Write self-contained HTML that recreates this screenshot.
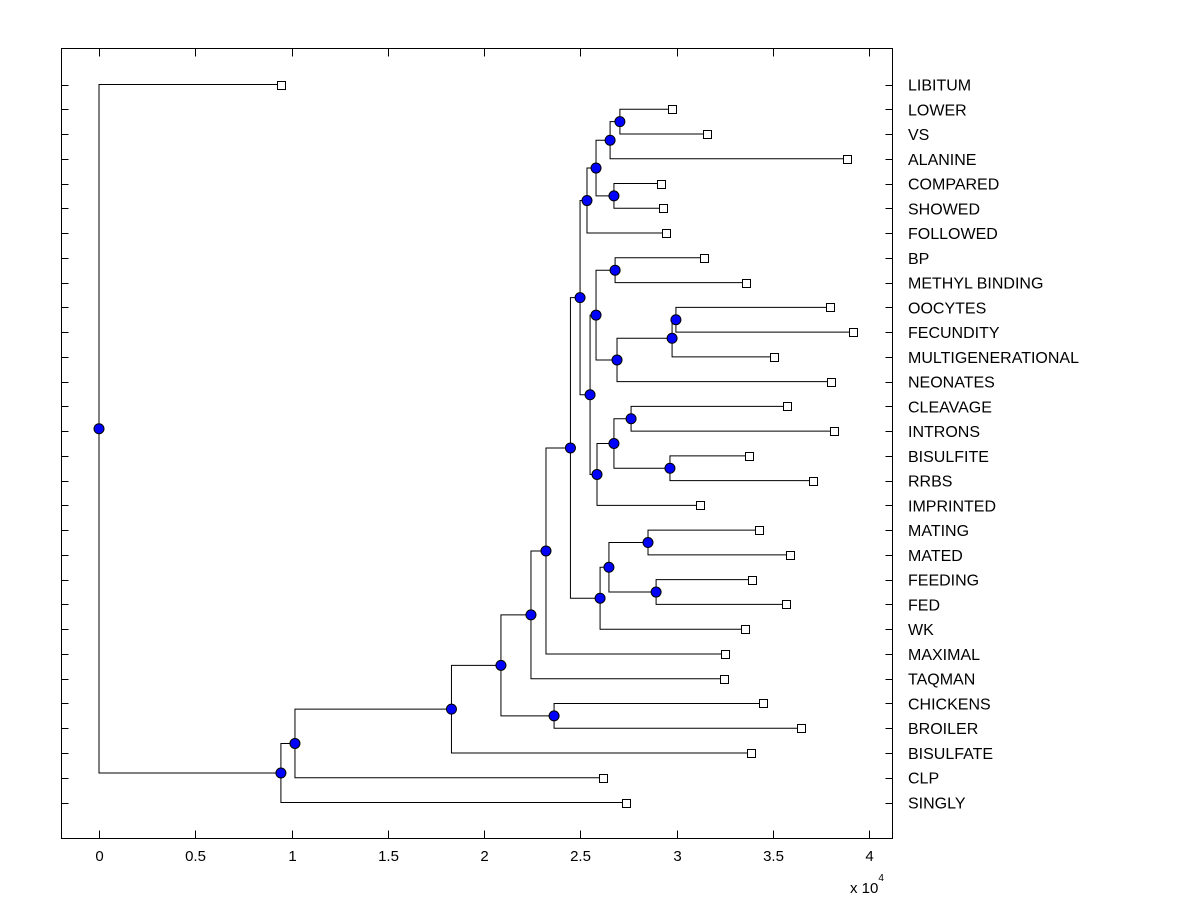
<!DOCTYPE html>
<html><head><meta charset="utf-8"><style>
html,body{margin:0;padding:0;background:#fff;}
svg{display:block;font-family:"Liberation Sans",Arial,sans-serif;}
</style></head><body>
<svg id="chart" width="1200" height="900" xmlns="http://www.w3.org/2000/svg"></svg>
<script>
const leafLabels = ["LIBITUM","LOWER","VS","ALANINE","COMPARED","SHOWED","FOLLOWED","BP","METHYL BINDING","OOCYTES","FECUNDITY","MULTIGENERATIONAL","NEONATES","CLEAVAGE","INTRONS","BISULFITE","RRBS","IMPRINTED","MATING","MATED","FEEDING","FED","WK","MAXIMAL","TAQMAN","CHICKENS","BROILER","BISULFATE","CLP","SINGLY"];
const leafValues = [0.945,2.977,3.158,3.886,2.919,2.930,2.945,3.143,3.361,3.797,3.917,3.506,3.803,3.574,3.818,3.377,3.709,3.122,3.429,3.590,3.392,3.569,3.356,3.252,3.247,3.449,3.647,3.387,2.618,2.738];
const mergeChildren = [
 ["L1","L2"],["N0","L3"],["L4","L5"],["N1","N2"],["N3","L6"],
 ["L7","L8"],["L9","L10"],["N6","L11"],["N7","L12"],["N5","N8"],
 ["L13","L14"],["L15","L16"],["N10","N11"],["N12","L17"],["N9","N13"],
 ["N4","N14"],["L18","L19"],["L20","L21"],["N16","N17"],["N18","L22"],
 ["N15","N19"],["N20","L23"],["N21","L24"],["L25","L26"],["N22","N23"],
 ["N24","L27"],["N25","L28"],["N26","L29"],["L0","N27"]
];
const mergeHeights = [2.706,2.655,2.675,2.582,2.535,2.681,2.997,2.977,2.691,2.582,2.764,2.966,2.675,2.587,2.551,2.499,2.852,2.894,2.649,2.603,2.449,2.322,2.244,2.364,2.088,1.831,1.018,0.945,0];
const xTicks = [0,0.5,1,1.5,2,2.5,3,3.5,4];
const xTickLabels = ["0","0.5","1","1.5","2","2.5","3","3.5","4"];

const NS="http://www.w3.org/2000/svg";
const svg=document.getElementById('chart');
const L=61.5,R=892.5,T=48.5,B=838.5;
const xs=v=>99+v*192.5;
const ys=i=>84.5+i*(718/29);
function el(tag,attrs,parent){const e=document.createElementNS(NS,tag);for(const k in attrs)e.setAttribute(k,attrs[k]);(parent||svg).appendChild(e);return e;}

const frame=el('rect',{x:L,y:T,width:R-L,height:B-T,fill:'none',stroke:'#000','stroke-width':1});



xTicks.forEach((t,i)=>{
 const x=Math.round(xs(t))+0.5;
 el('line',{x1:x,y1:B,x2:x,y2:B-8,stroke:'#000'});
 el('line',{x1:x,y1:T,x2:x,y2:T+8,stroke:'#000'});
 const tx=el('text',{x:x,y:861,'text-anchor':'middle','font-size':15});
 tx.textContent=xTickLabels[i];
 
 
});
const mult=el('text',{x:850,y:893,'font-size':15});
mult.innerHTML='x 10<tspan dy="-12" font-size="10">4</tspan>';



const lines=el('g',{stroke:'#000','stroke-width':1,fill:'none'});



const nodePos=[];
function pos(c){const i=+c.slice(1);return c[0]==='L'?{x:xs(leafValues[i]),y:ys(i)}:nodePos[i];}
mergeChildren.forEach((ch,i)=>{
 const a=pos(ch[0]),b=pos(ch[1]);
 const x=xs(mergeHeights[i]);
 const y=(a.y+b.y)/2;
 nodePos[i]={x:x,y:y};
 el('path',{d:`M${a.x},${a.y}H${x}V${b.y}H${b.x}`},lines);
});

leafLabels.forEach((lab,i)=>{
 const y=ys(i);const yy=Math.round(y)+0.5;
 el('line',{x1:L,y1:yy,x2:L+7,y2:yy,stroke:'#000'});
 el('line',{x1:R,y1:yy,x2:R-7,y2:yy,stroke:'#000'});
 const t=el('text',{x:908,y:y+6,'font-size':16});
 t.textContent=lab;
 
 
 const s=el('rect',{x:Math.round(xs(leafValues[i]))-3.5,y:Math.round(y)-3.5,width:8,height:8,fill:'#fff',stroke:'#000'});
 
 
});

nodePos.forEach(p=>{
 const c=el('circle',{cx:p.x,cy:p.y,r:5,fill:'#0000ff',stroke:'#000','stroke-width':1});
 
 
});
</script>
</body></html>
